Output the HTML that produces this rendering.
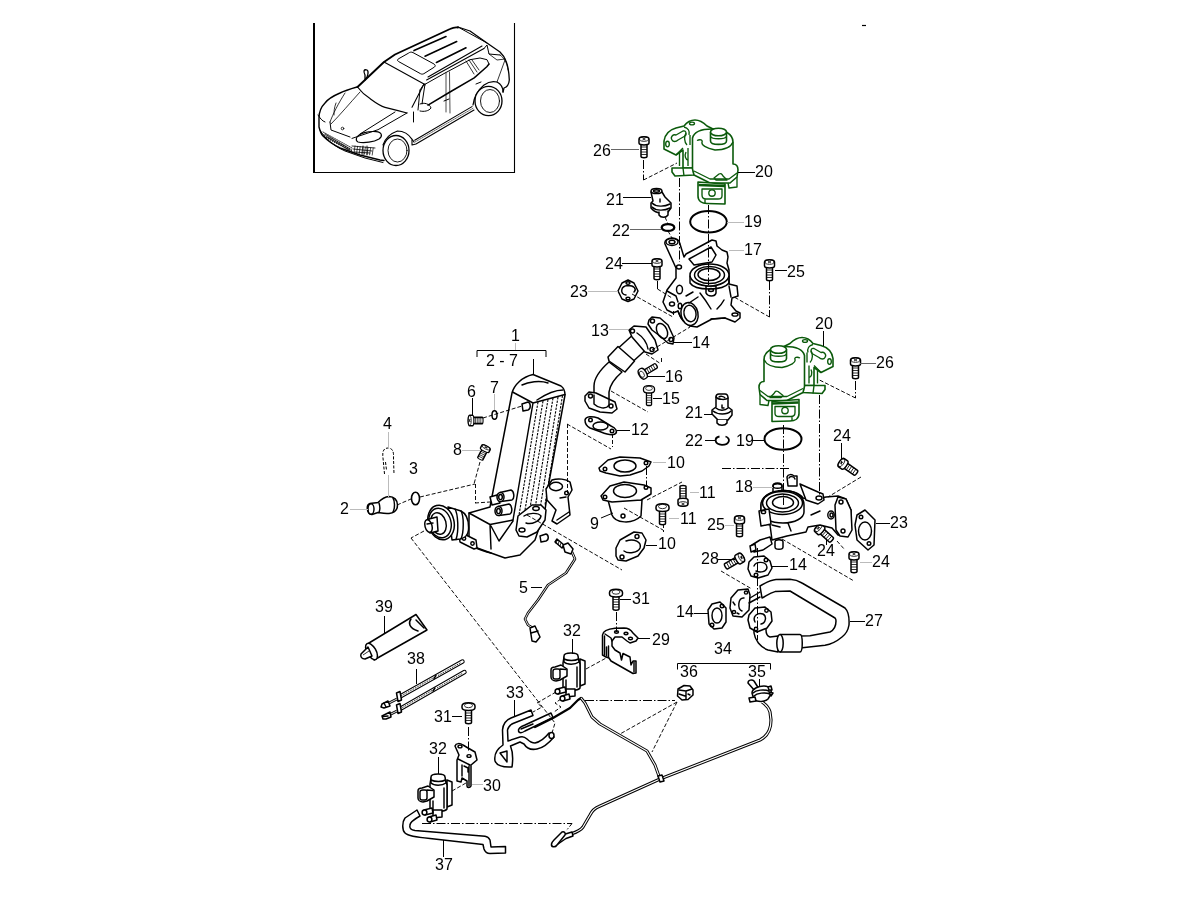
<!DOCTYPE html>
<html><head><meta charset="utf-8">
<style>
html,body{margin:0;padding:0;background:#fff;width:1200px;height:900px;overflow:hidden}
svg{display:block;will-change:transform}
text{font-family:"Liberation Sans",sans-serif;font-size:16px;fill:#000}
.k{fill:none;stroke:#000;stroke-width:1.45;stroke-linejoin:round;stroke-linecap:round}
.kw{fill:#fff;stroke:#000;stroke-width:1.5;stroke-linejoin:round;stroke-linecap:round}
.t{fill:none;stroke:#000;stroke-width:0.8}
.ld{fill:none;stroke:#000;stroke-width:1}
.lg{fill:none;stroke:#bbb;stroke-width:1}
.lm{fill:none;stroke:#666;stroke-width:1}
.dd{fill:none;stroke:#000;stroke-width:0.95;stroke-dasharray:4 2}
.dc{fill:none;stroke:#000;stroke-width:1;stroke-dasharray:9 2 1.5 2}
.g{fill:#fff;stroke:#0b5a0b;stroke-width:1.6;stroke-linejoin:round}
.gn{fill:none;stroke:#0b5a0b;stroke-width:1.35;stroke-linejoin:round}
</style></head><body>
<svg width="1200" height="900" viewBox="0 0 1200 900">
<!-- car box -->
<path d="M314,23V173" fill="none" stroke="#000" stroke-width="2"/><path d="M313,172.5H515M514.5,23V173" fill="none" stroke="#000" stroke-width="1.1"/>
<path d="M862 25.5h4" stroke="#000" stroke-width="1.2"/>
<g id="car" fill="none" stroke="#000" stroke-linejoin="round" stroke-linecap="round">
<!-- silhouette -->
<path stroke-width="1.4" d="M357,87 C350,89 344,91 340,93 C333,96 328,99 325,103 C321,107 319,112 319,118 L319,127 C320,131 321,134 323,136 C328,141 334,145 340,148 L360,155 L380,160 L384,160.5"/>
<path stroke-width="1.9" d="M357.5,87 L366,79 L384,62 L395,54.5 L450,29 C452,28 455,27 458,27.5"/>
<path stroke-width="1.3" d="M458,27 L470,31 L487,43 L500,52 C503,55 505,58 506,61 C508,66 509,72 509.3,80 C509,84 507,87 504,88 L503,92"/>
<path stroke-width="1.2" d="M357.5,87 C362,93 366,96 370,98.6 C376,103 380,106 385,107.3 C392,109 398,110.5 407,113"/>
<path stroke-width="1.1" d="M384,62 L424,84 M424,84 L412,107.3 M424,84 L425,85 M426.6,80 L484,48.5 M428,77 L482,46"/>
<!-- roof -->
<path stroke-width="1.6" d="M414,50.6 L446,36.6 M425,56.2 L456.7,41.5 M436.4,62.5 L466,47.8"/>
<path stroke-width="1" d="M409,52.8 C410,52 411.5,51.8 413,52.6 L434,64 C435.5,65 435.5,66 434.5,67 L424,73.6 C423,74.3 421.5,74.3 420.5,73.7 L398.5,61.5 C397,60.6 397.2,59.5 398.5,58.8 Z"/>
<path stroke-width="1" d="M458,27 L487,43 M484,48.5 L487,45 L489,54 L500,55"/>
<path stroke-width="0.8" d="M489,54 L497,60 L505,59 M505,60 L497,82 M500,55 C504,58 507,62 508,70"/>
<!-- side windows -->
<path stroke-width="1" d="M425.2,84.2 L445,73 L470,59.7 L480,58 L487,59.7 L489,64"/>
<path stroke-width="1.5" d="M428,105.2 L450,92 L474.2,77.9 L486.8,66.7 L489,64"/>
<path stroke-width="0.7" d="M446,73 L446,112 M449.5,72 L450,113"/>
<path stroke-width="0.8" d="M466,61 L474,74 M469,60 L477,72 M472,60 L479,70"/>
<path stroke-width="1" d="M420,90 L424,84 M418,110 L420,90 M425,84 L422,104"/>
<path stroke-width="1" d="M420,104 C424,102 430,104 431,108 C429,111 424,112 420,111"/>
<path stroke-width="1" d="M444,101 L449,99 M476,84 L481,82"/>
<!-- sill -->
<path stroke-width="1.1" d="M414.7,140.2 L472,106.6 M416,144 L474,110 M412,140 L412,145 L416,144"/>
<path stroke-width="0.6" stroke-dasharray="1 1" d="M415,142 L473,108.3"/>
<!-- front body -->
<path stroke-width="1.3" d="M365,75 C363,71 364,69 367,70 C369,71 368,77 365,80 Z"/>
<path stroke-width="0.8" d="M345,93 C338,104 333,114 330,122 M360,92 C350,103 340,115 331,124 M336,103 C334,108 334,112 334,115"/>
<path stroke-width="1" d="M407,113 L378,129.7 L352,138.4 M395,112 L360,134 M330,122 L331,130 L350,137 M318,115 C320,118 322,121 325,122"/>
<path stroke-width="1.2" d="M357,137 C360,133 368,131 376,131.6 C382,132 383,136 379,139 C374,142 364,143.5 358,142 C356,141 356,139 357,137 Z"/>
<path stroke-width="0.8" d="M325,134 L350,149 M327,137 L349,150 M352,146 L375,148 M353,149 L372,151 M354,152 L370,153 M363,146 L363,155 M367,146 L367,155"/>
<path stroke-width="0.8" stroke-dasharray="1 1" d="M323,132 L352,148"/>
<circle cx="342.5" cy="128.5" r="1.3" stroke-width="0.8"/>
<path stroke-width="0.8" d="M324.0,134.5 l1,3 M325.9,135.5 l1,3 M327.9,136.6 l1,3 M329.8,137.6 l1,3 M331.7,138.6 l1,3 M333.6,139.7 l1,3 M335.6,140.7 l1,3 M337.5,141.8 l1,3 M339.4,142.8 l1,3 M341.4,143.8 l1,3 M343.3,144.9 l1,3 M345.2,145.9 l1,3 M347.1,146.9 l1,3 M349.1,148.0 l1,3 M351.0,149.0 l1,3"/>
<path stroke-width="0.7" d="M355.0,146.0 l-1,7 M357.6,146.3 l-1,7 M360.2,146.6 l-1,7 M362.8,146.9 l-1,7 M365.4,147.2 l-1,7 M368.0,147.5 l-1,7 M370.6,147.8 l-1,7 M373.2,148.1 l-1,7"/>
<path stroke-width="1" d="M320,130 C325,139 334,146 345,151 L365,158 L383,162.5"/>

<!-- wheels -->
<path stroke-width="1.2" d="M383,145 C385,139 389,134 397.4,131 C403,131 408,133 412.3,139.6 L414,142"/>
<ellipse cx="396" cy="150.5" rx="13" ry="15" stroke-width="1.3" fill="#fff"/>
<ellipse cx="397.5" cy="150.5" rx="9.5" ry="11.5" stroke-width="0.9"/>
<path stroke-width="1.2" d="M473,105 C474,97 478,90 484,85 C488,82 493,81 497,82 C501,84 503,87 503,92"/>
<ellipse cx="488.5" cy="101" rx="13.5" ry="14.7" stroke-width="1.3" fill="#fff"/>
<ellipse cx="490" cy="101" rx="9.5" ry="11.5" stroke-width="0.9"/>
<path stroke-width="1" d="M413.5,112 L413.5,122"/>
</g>

<g id="valve">
<path class="g" d="M664,149 L664,141 C665,134 669,130 676,128 L684,126 C687,122 691,120 695,120 C700,120 704,123 707,126 L713,129 L693,138 L693,168 L683,168 L683,150 L676,155 Z"/>
<path class="gn" d="M672,140 C670,137 673,134 676,135 L683,131 C686,130 687,134 685,136 L678,140 C676,142 673,142 672,140 Z"/>
<ellipse class="gn" cx="667.5" cy="144" rx="1.8" ry="2.8"/>
<ellipse class="gn" cx="692" cy="123.5" rx="2.5" ry="1.4"/>
<path class="gn" d="M684,127 C688,128 690,131 689,135 M686,133 C684,136 684,142 687,145 M690,135 L690,145 M688,148 L688,166 M686,152 C684,156 686,160 688,160"/>
<path class="gn" d="M676,155 L683,148 M679.5,153 L679.5,166"/>
<path class="g" d="M672,168 L693,168 L694,175 L675,176 L672,172 Z"/>
<path class="gn" d="M683,168 L684,176"/>
<path class="g" d="M692.5,138 L692.5,169 L694,175 L710,183 L730,183 L737,177 L738,170 C738,166 736,164 733,164 L733,142 C733,134 724,129 712,129 C702,129 694,132 692.5,138 Z"/>
<path class="gn" d="M697,140.5 C700,139 703,140 702,142 C701,145 706,148 715,150 C724,150 731,147 733,142"/>
<path class="g" d="M710.5,132 L710.5,141 C710.5,145.5 726.5,145.5 726.5,141 L726.5,132"/>
<ellipse class="g" cx="718.5" cy="132" rx="8" ry="3.8"/>
<path class="gn" d="M710.5,136.5 C712,139.5 725,139.5 726.5,136.5"/>
<path class="gn" d="M714,178 L719,174 C721,173 722,174 723,176 L727,180 L716,180 Z"/>
<path class="gn" d="M694,171 L710,179 L729,179 L737,173"/>
<path class="g" d="M698,182 L698,196 C698,201 702,203.5 707,203.5 L725,204 L725,184 Z"/>
<path class="gn" d="M702,189 L722,189 L722,196 C722,198 720,199 718,199 L706,199 C703,199 702,197 702,195 Z M705,203.5 L705,199"/>
<path fill="none" stroke="#0b5a0b" stroke-width="2.4" d="M698.5,185 L725,186"/>
<circle class="gn" cx="712" cy="193" r="3.2"/>
<path class="gn" d="M728,183 L729,188 L737,187 L737,177"/>
</g>
<use href="#valve" transform="translate(1497,217.5) scale(-1,1)"/>


<!-- bolt symbol: origin top center, pointing down -->
<defs>
<g id="bolt">
<path class="kw" d="M-3,8 L-3,20.5 C-3,22 3,22 3,20.5 L3,8 Z"/>
<path class="t" d="M-3,11 H3 M-3,13.5 H3 M-3,16 H3 M-3,18.5 H3"/>
<path class="kw" d="M-5,3 C-5,0 5,0 5,3 L5,7 C5,9.5 -5,9.5 -5,7 Z"/>
<ellipse class="t" cx="0" cy="3" rx="4.5" ry="2.3"/>
<path class="t" d="M-1.5,2 L1.5,4 M1.5,2 L-1.5,4"/>
</g>
<g id="boltf">
<path class="kw" d="M-3,8 L-3,20.5 C-3,22 3,22 3,20.5 L3,8 Z"/>
<path class="t" d="M-3,11 H3 M-3,13.5 H3 M-3,16 H3 M-3,18.5 H3"/>
<path class="kw" d="M-6.5,4 C-6.5,-0.5 6.5,-0.5 6.5,4 L6.5,5.5 C6.5,9.5 -6.5,9.5 -6.5,5.5 Z"/>
<ellipse class="t" cx="0" cy="3.5" rx="4" ry="2.2"/>
</g>
</defs>
<!-- housing 17 -->
<g id="h17">
<path class="kw" d="M672,238 C668,238 664,240 665,244 L676,268 L676,278 L667,290 L663,302 L667,310 L673,313 L678,311 L681,318 L690,326 L697,327 L712,319 L725,318 L735,322 L740,318 L740,313 L736,311 L731,305 L732,298 L738,296 L737,286 L729,284 L729,270 L727,263 L728,257 L727,252 L722,250 L717,246 L716,241 L712,240 L686,254 L684,257 L680,244 C680,240 676,238 672,238 Z"/>
<ellipse class="k" cx="672" cy="242" rx="6" ry="3.5"/>
<ellipse class="k" cx="672" cy="242" rx="3" ry="1.8"/>
<path class="k" d="M689,259 L711,247 L716,255 L712,262 L694,265 Z"/>
<path class="kw" d="M706,286 L706,293 C708,297 715,297 716,293 L716,286 Z"/>
<ellipse class="k" cx="711" cy="290" rx="2.5" ry="1.5"/>
<path class="k" d="M690,276 L690,283 C695,291 723,291 729,283 L729,276"/>
<ellipse class="kw" cx="709.5" cy="275" rx="19.5" ry="11"/>
<ellipse class="k" cx="709.5" cy="275" rx="15" ry="8.5"/>
<ellipse class="k" cx="709" cy="274.5" rx="11" ry="6"/>
<path class="k" d="M678,311 C680,318 684,323 690,326"/>
<ellipse class="kw" cx="689.5" cy="314" rx="8.5" ry="11.5" transform="rotate(-12 689.5 314)"/>
<ellipse class="k" cx="690" cy="313.5" rx="6" ry="8.3" transform="rotate(-12 690 313.5)"/>
<ellipse class="k" cx="735" cy="314.5" rx="3" ry="1.6"/>
<ellipse class="k" cx="672" cy="304" rx="2.5" ry="2"/>
<ellipse class="k" cx="679.5" cy="289.5" rx="3" ry="4.3"/>
<ellipse class="k" cx="680" cy="306" rx="1.8" ry="2.8"/>
<ellipse class="k" cx="679" cy="267" rx="2.5" ry="2"/>
<path class="k" d="M686,296 L693,292 M689,303 L698,297 M700,293 C704,298 708,304 711,309 M724,300 C722,304 719,307 717,309 M711,319 L725,318 M729,286 L731,297 M667,291 L676,296 L678,302"/>
</g>
<!-- bolts -->
<use href="#bolt" transform="translate(644,136)"/>
<use href="#bolt" transform="translate(657,258)"/>
<use href="#bolt" transform="translate(769.5,259)"/>
<use href="#bolt" transform="translate(855.5,357)"/>
<use href="#boltf" transform="translate(649,385) scale(0.85,0.95)"/>
<use href="#boltf" transform="translate(639,376) rotate(-121) scale(0.85,0.95)"/>
<use href="#bolt" transform="translate(683,507) rotate(180)"/>
<use href="#boltf" transform="translate(662.5,503)"/>
<use href="#bolt" transform="translate(839,461) rotate(-55)"/>
<use href="#bolt" transform="translate(816,526) rotate(-48)"/>
<use href="#bolt" transform="translate(854,551)"/>
<use href="#bolt" transform="translate(739.5,515)"/>
<use href="#bolt" transform="translate(744,556) rotate(60)"/>
<use href="#boltf" transform="translate(616,588.5)"/>
<use href="#boltf" transform="translate(468.5,702)"/>
<use href="#bolt" transform="translate(467.5,420.5) rotate(-90) scale(1.05,0.72)"/>
<use href="#bolt" transform="translate(487,445.5) rotate(27) scale(0.95,0.72)"/>
<!-- gaskets -->
<path class="kw" d="M618,291 L622,283 L628,280 L634,283 L638,291 L634,299 L628,301.5 L622,299 Z"/>
<path class="k" d="M626,295 C620,294 620,286 628,285.5 C634,285.5 637,289 634,292"/>
<ellipse class="k" cx="628" cy="283" rx="2" ry="1.3"/><ellipse class="k" cx="628" cy="298.5" rx="2" ry="1.3"/>
<path class="kw" d="M649,320 L652,317 L660,318 L668,325 L674,338 L673,344 L668,343 L660,336 L652,330 L648,324 Z"/>
<ellipse class="k" cx="662" cy="331" rx="5" ry="8" transform="rotate(-25 662 331)"/>
<circle class="k" cx="652.5" cy="321" r="2"/><circle class="k" cx="671" cy="339.5" r="2"/>
<path class="kw" d="M585,420 C586,416 592,416 598,418 L611,426 C616,428 618,432 615,434 C611,436 606,434 601,432 L590,428 C586,426 585,423 585,420 Z"/>
<ellipse class="k" cx="600.5" cy="426" rx="7.5" ry="4"/>
<circle class="k" cx="590.5" cy="420" r="1.8"/><circle class="k" cx="612" cy="431" r="1.8"/>
<path class="kw" d="M599,468 L608,460 L620,457 L640,458 L651,462 L649,466 L642,471 L630,475 L620,476 L606,473 L600,471 Z"/>
<ellipse class="k" cx="625" cy="466" rx="11" ry="6"/>
<circle class="k" cx="605" cy="469" r="1.8"/><circle class="k" cx="646" cy="463" r="1.8"/>
<path class="kw" d="M608,500 L612,515 C615,523 632,525 641,516 L642,500 Z"/>
<circle class="k" cx="623" cy="516" r="2"/>
<path class="kw" d="M601,496 L610,486 L624,482 L644,485 L651,488 L651,494 L641,500 L612,502 L603,500 Z"/>
<ellipse class="k" cx="625" cy="491" rx="11.5" ry="6.5"/>
<circle class="k" cx="646" cy="487.5" r="1.8"/><circle class="k" cx="605" cy="497" r="1.8"/>
<path class="kw" d="M616,548 L620,540 L634,532 L642,533 L646,540 L644,548 L638,556 L626,561 L618,560 L616,556 Z"/>
<path class="k" d="M626,541 C634,538 642,542 640,548 C638,553 628,554 624,551"/>
<circle class="k" cx="637" cy="536.5" r="2"/><circle class="k" cx="622" cy="557" r="2"/>
<path class="kw" d="M749,562 L754,557 L764,556 L770,561 L772,568 L768,575 L758,578 L751,576 L748,569 Z"/>
<path class="k" d="M754,566 C756,561 766,561 767,567 C767,572 760,573 756,571"/>
<circle class="k" cx="766" cy="560" r="1.8"/><circle class="k" cx="756" cy="575" r="1.8"/>
<path class="kw" d="M708,610 L712,604 L720,602 L726,608 L726,622 L722,628 L714,629 L709,624 Z"/>
<ellipse class="k" cx="717" cy="615.5" rx="5" ry="7.5"/>
<circle class="k" cx="722" cy="606" r="1.8"/><circle class="k" cx="712" cy="625" r="1.8"/>
<path class="kw" d="M857,515 L865,510 L875,520 L874,545 L868,550 L857,540 L855,525 Z"/>
<ellipse class="k" cx="865" cy="531" rx="6.5" ry="9"/>
<circle class="k" cx="861" cy="517" r="1.8"/><circle class="k" cx="869" cy="543.5" r="1.8"/>


<!-- sensor 21 upper -->
<g>
<path class="kw" d="M651,192 L653,201 L651,203 L651,208 C655,213 661,214 668,212 L671,208 L671,203 L665,197 L662,192 Z"/>
<ellipse class="kw" cx="656.5" cy="191" rx="5.5" ry="2.6"/>
<ellipse class="k" cx="656.5" cy="191" rx="3" ry="1.2"/>
<path class="k" d="M652,203 C656,207 664,207 670,204 M652,207 C656,211 664,211 670,208 M660,199 L660,202"/>
<path class="kw" d="M659,212 L659,215 C661,218 666,218 668,215 L668,211"/>
<ellipse fill="none" stroke="#000" stroke-width="2.3" cx="668" cy="227.5" rx="6.3" ry="3.4"/>
</g>
<!-- sensor 21 lower -->
<g>
<path class="kw" d="M716,397 L716,407 L712,410 L712,414 L718,420 L728,420 L732,415 L732,410 L728,407 L728,398 Z"/>
<path class="kw" d="M716,397 C716,395 717,394 719,394 L725,394 C727,394 728,396 728,398 C726,400 718,400 716,397 Z"/>
<path class="k" d="M719,397 C720,396 724,396 725,398 M713,411 C718,415 727,415 731,411 M716,408 C719,411 725,411 728,408 M722,405 L722,408 L724,408"/>
<path class="kw" d="M717,420 L717,423 C719,426 725,426 727,423 L727,420"/>
<path fill="none" stroke="#000" stroke-width="1.8" d="M719.5,436.5 C714,437.5 714,444.5 722,444.8 C730,444.8 731,438 725.5,436.5"/>
</g>
<ellipse fill="none" stroke="#000" stroke-width="2" cx="708.5" cy="221.8" rx="18.3" ry="10.8"/>
<ellipse fill="none" stroke="#000" stroke-width="2" cx="783" cy="439" rx="18.5" ry="10.8"/>
<!-- pipe 13 -->
<g>
<path class="kw" d="M614,352 L636,332 L650,346 L628,366 Z"/>
<path class="kw" d="M609,362 C600,370 594,378 594,386 L594,401 L609,401 L609,392 C610,385 615,378 622,372 Z"/>
<path class="kw" d="M608,357 L618,346.5 L634.5,361 L625,372 L609,361 Z"/>
<path class="kw" d="M629,330 L634,326 L646,327 L655,340 L658,350 L652,354 L645,352 L632,337 Z"/>
<circle class="k" cx="632.5" cy="331" r="2"/><circle class="k" cx="652" cy="349.5" r="2"/>
<path class="k" d="M637,333 C643,337 647,343 648,349"/>
<path class="kw" d="M585,396 L589,392 L596,393 L615,402 L617,409 L612,413 L600,412 L589,408 L585,401 Z"/>
<path class="k" d="M594,395 L594,404 C598,408 606,410 609,405 L609,400"/>
<circle class="k" cx="590.5" cy="396" r="2"/><circle class="k" cx="611" cy="406" r="2"/>
</g>


<!-- cooler 1 -->
<g id="cooler">
<path class="kw" d="M469,513 L490,507 L512,393 C514,385 522,377 533,374.5 L561,386 C564,388 565,391 565,395 L549,482 L545,510 L535,540 L520,555 L505,558 L491,553 L469,545 Z"/>
<path class="k" d="M512.5,392 L533,403 L565,394.5 M533,403 L513,520 M522,385 C528,382 540,380 548,383 M537,400 C546,394 556,390 563,390"/>
<path fill="none" stroke="#000" stroke-width="1.1" stroke-dasharray="2.4 1.2" d="M538,402 L518.5,518 M543,401 L524,516 M548,399.5 L529,514 M553,398 L534.5,512 M558,397 L540,509 M562.5,395.5 L545,505"/>
<path class="k" d="M469,513 L490,524.5 L513,520 M490,524.5 L491,549 M491,526 L499,541 L513,521 M469,545 C478,549 486,552 491,553"/>
<!-- right bracket -->
<path class="kw" d="M546,489 L552,480 C558,478 566,479 570,482 L572,490 L568,497 L570,515 L557,524 L552,521 L556,510 L547,500 Z"/>
<ellipse class="k" cx="556" cy="486.5" rx="6.5" ry="4.2"/>
<circle class="k" cx="566.5" cy="493" r="1.8"/>
<path class="k" d="M557,520 L569,512 M560,498 L566,497"/>
<!-- flange with hole -->
<path class="kw" d="M516,530 L518,516 L532,505 L541,505 L546,510 L545,520 L537,532 L527,537 L519,536 Z"/>
<ellipse class="k" cx="536" cy="508.5" rx="3.2" ry="2"/>
<ellipse class="k" cx="522" cy="530" rx="3" ry="2"/>
<path class="k" d="M524,516 C528,513 538,512 541,516 C540,521 532,525 526,523"/>
<path class="kw" d="M540,536 L546,534 C549,535 549,540 546,541 L541,542 Z"/>
<!-- pipes -->
<path class="kw" d="M490,497 L497,495 L500,503 L492,505 Z"/>
<path class="kw" d="M500,492.5 L511,490 C514,491 515,498 512,500 L501,501.5 Z"/>
<ellipse class="kw" cx="500.5" cy="497" rx="3.5" ry="4.6"/>
<ellipse class="k" cx="500.5" cy="497" rx="1.8" ry="2.6"/>
<path class="kw" d="M498,506.5 L509,504 C512,505 513,512 510,514 L499,515.5 Z"/>
<ellipse class="kw" cx="498.5" cy="511" rx="3.5" ry="4.6"/>
<ellipse class="k" cx="498.5" cy="511" rx="1.8" ry="2.6"/>
<!-- bracket tab -->
<path class="kw" d="M459,535 L462,533 L476,540 L477,548 L474,549 L460,542 Z"/>
<circle class="k" cx="464" cy="538.5" r="1.7"/><circle class="k" cx="472.5" cy="543.5" r="1.7"/>
<!-- actuator -->
<path class="kw" d="M448,507 L461,511 C467,514 469,522 468.5,530 C468,535 465,538 460,539 L452,540 Z"/>
<path class="k" d="M455,509 C458,514 459,531 456,539.5 M461,511 C464,516 464,532 461,539"/>
<ellipse class="kw" cx="441" cy="522.5" rx="13" ry="17.5" transform="rotate(-15 441 522.5)"/>
<ellipse class="k" cx="440" cy="523" rx="11" ry="15" transform="rotate(-15 440 523)"/>
<ellipse class="k" cx="438.5" cy="523.5" rx="7.5" ry="11" transform="rotate(-15 438.5 523.5)"/>
<path class="kw" d="M429,519 L437,517 L438,531 L430,533 Z"/>
<ellipse class="kw" cx="428.5" cy="526" rx="3.5" ry="6.5" transform="rotate(-15 428.5 526)"/>
<path class="k" d="M427,524 L433,523"/>
</g>
<!-- part 2 cap -->
<path class="kw" d="M370,503.5 C373,503 376,503 378,502.5 C381,499.5 384,497 389,496.5 C394,496.5 397.5,500 397.5,505 C397.5,510 394,513 389,513.5 C385,514 381,513 378,512.5 L372,514.5 C367,515 365.5,505 370,503.5 Z"/>
<ellipse class="k" cx="371" cy="509" rx="3" ry="5.3"/>
<path class="k" d="M379,503 C380,506 380,510 379,512.5 M393,498 C395,501 395,508 393,512"/>
<ellipse fill="none" stroke="#000" stroke-width="1.6" cx="415.5" cy="498.5" rx="4" ry="6.3"/>
<!-- clip 4 -->
<path fill="none" stroke="#000" stroke-width="1" stroke-dasharray="3 1.5" d="M384.5,474 L383,458 C382,451 384,448 388,448 C392,448 394,451 393.5,458 L394,474 M385.5,462 L386.5,470"/>
<!-- ring 7 -->
<ellipse fill="none" stroke="#000" stroke-width="1.5" cx="494.5" cy="415" rx="2.5" ry="4.3"/>
<path class="kw" d="M522,404 L528,402 C531,403 531,409 528,410 L523,411 Z"/>


<!-- housing 18 -->
<g id="h18">
<path class="kw" d="M761,505 L761,522 L770,525 L772,540 L787,536 L806,532 L808,527 L820,525 L832,528 L838,535 L848,536 L851,530 L851,510 L846,499 L838,496 L826,497 L812,500 L803,498 C800,493 790,490 783,490.5 C770,491 762,497 761,505 Z"/>
<path class="kw" d="M800,484 L818,492 L823,494 L824,500 L818,504 L806,500 Z"/>
<ellipse class="k" cx="819" cy="498" rx="3" ry="2"/>
<path class="kw" d="M788,486 L787,477 C788,474 792,474 794,476 L797,476 L797,486 Z"/>
<path class="k" d="M789,478 C790,476 794,476 795,479"/>
<path class="kw" d="M773,496 L773,486 C773,482 782,482 782,486 L782,496 Z"/>
<ellipse class="k" cx="777.5" cy="486" rx="4.5" ry="2.3"/>
<path class="kw" d="M761,512 L761,505 C761,496 772,490.5 783,490.5 C795,490.5 804,496 804,505 L804,512 C804,518 795,523 783,523 C771,523 761,518 761,512 Z"/>
<ellipse class="k" cx="782.5" cy="503" rx="20" ry="11.5"/>
<ellipse class="k" cx="782.5" cy="503" rx="16" ry="9"/>
<ellipse class="k" cx="783" cy="502.5" rx="10.5" ry="6"/>
<path class="kw" d="M759,511 L769,509 L771,524 L761,526 Z"/>
<ellipse class="k" cx="763.5" cy="512" rx="2.2" ry="1.6"/>
<path class="kw" d="M838,497 L846,499 L851,510 L852,530 L848,537 L840,536 L836,530 L835,505 Z"/>
<circle class="k" cx="841" cy="502" r="2"/><circle class="k" cx="843" cy="531" r="2"/>
<path class="k" d="M811,515 L820,511 M788,523 L791,531 M772,525 L780,527"/>
<ellipse class="k" cx="831" cy="515" rx="3.2" ry="4"/><ellipse class="k" cx="831.5" cy="515" rx="1.5" ry="2"/>
<path class="kw" d="M752,545 L760,540 L770,537 L772,544 L763,550 L754,552 Z"/>
<path class="kw" d="M750,546 L755,544 L756,550 L751,552 Z"/>
<path class="kw" d="M775,542 C775,539 783,539 783,542 L783,547 C783,550 775,550 775,547 Z"/>
</g>
<!-- pipe 27 -->
<g id="p27">
<path class="kw" d="M731,598 L738,590 L748,589 L750,595 L749,610 L742,617 L733,616 L730,608 Z"/>
<path class="k" d="M744,598 C738,597 737,609 742,611 M733,602 L735,605 M737,613 L739,614"/>
<circle class="k" cx="746" cy="592.5" r="1.6"/><circle class="k" cx="734" cy="612" r="1.6"/>
<path class="k" d="M750,598 L760,592 M749,603 L760,597"/>
<path class="kw" d="M760,586 C765,583 770,580 776,579.5 L790,579.2 C795,579.5 798,580.5 802,583 L845,608 C848,611 849.5,616 849,625 C848,631 846,634 842,637 C836,642 830,644.5 825,645.3 L800,648 L800,636 L810,635.7 L830,632 C834,630 836,627 836,621 C836,619 835.5,618.5 835,618 L790,591 L775,591.6 C770,593 766,596 762,598 Z"/>
<path class="kw" d="M754,628 L754,633 C755,640 760,647 768,650 L778,652 L778,636 L770,637 C767,636 766,634 766,630 L766,627 Z"/>
<path class="kw" d="M780,634.5 L800,634.5 C803,634.5 803,652 800,652 L780,652 Z"/>
<ellipse class="kw" cx="780" cy="643.3" rx="3.2" ry="8.8"/>
<path class="kw" d="M749,615 L755,608 L765,607 L771,612 L772,621 L767,628 L757,632 L750,628 L748,620 Z"/>
<path class="k" d="M755,622 C752,616 758,612 763,614 C767,616 766,623 761,624"/>
<circle class="k" cx="766.5" cy="610.5" r="1.7"/><circle class="k" cx="756" cy="629" r="1.7"/>
</g>
<!-- sensor 5 -->
<g>
<path fill="none" stroke="#000" stroke-width="2.6" stroke-linejoin="round" d="M572,552 L575,559 L566,573 L548,585 L538,600 L528,613 L525,619 L528,625 L533,628"/>
<path fill="none" stroke="#fff" stroke-width="0.9" stroke-linejoin="round" d="M572,552 L575,559 L566,573 L548,585 L538,600 L528,613 L525,619 L528,625 L533,628"/>
<path class="kw" d="M555,542 L557,539 L564,545 L562,548 Z"/>
<path class="t" d="M557,540 L556,544 M559,541 L558,545 M561,543 L560,546"/>
<path class="kw" d="M563,545 L568,543 L573,549 L571,554 L565,552 Z"/>
<path class="kw" d="M530,628 L535,626 L540,637 L536,642 L532,641 Z"/>
<path class="k" d="M531,633 L538,631"/>
</g>
<!-- tube 39 -->
<g>
<path class="kw" d="M369,643 L416,614.5 L427,630 L374,660 Z"/>
<path class="k" d="M411,619 C408,623 409,628 418,631 M416,620 L424,628"/>
<ellipse class="kw" cx="371.5" cy="651.5" rx="4.5" ry="9" transform="rotate(-30 371.5 651.5)"/>
<path class="kw" d="M368,647 L361,654 C360,657 362,659 365,659 L372,656 Z"/>
<path class="t" d="M363,655 L369,651"/>
</g>
<!-- ties 38 -->
<g>
<path fill="none" stroke="#000" stroke-width="4.4" stroke-linecap="round" d="M401,696 L462.5,661.5 M400,709 L464.5,672"/>
<path fill="none" stroke="#fff" stroke-width="2.4" stroke-linecap="round" d="M401,696 L462.5,661.5 M400,709 L464.5,672"/>
<path fill="none" stroke="#000" stroke-width="1" stroke-dasharray="1 1" d="M401,696 L434,677.5 M438,675.5 L461,662.5 M400,709 L433,690 M437,688 L463,673"/>
<path class="kw" d="M396.5,693 L400,691.5 L401.5,700 L398,701.5 Z"/>
<path class="kw" d="M396.5,705 L400,703.5 L401.5,712 L398,713.5 Z"/>
<path class="k" d="M434,678.5 L436,675.5 M433,691 L435,688"/>
<path fill="none" stroke="#000" stroke-width="2.6" d="M397,699 L387,704"/>
<path fill="none" stroke="#fff" stroke-width="0.9" d="M397,699 L387,704"/>
<path class="kw" d="M388,701 L382,704 L381,707 L384,708 L390,706 Z"/>
<path class="k" d="M384,703 L386,707"/>
<path fill="none" stroke="#000" stroke-width="2.6" d="M397,711 L389,715"/>
<path fill="none" stroke="#fff" stroke-width="0.9" d="M397,711 L389,715"/>
<path class="kw" d="M390,712 L382,716 L383,719 L386,719 L391,717 Z"/>
<path class="k" d="M383,716.5 L388,716"/>
</g>


<!-- valve 32 -->
<g id="v32">
<path class="kw" d="M580,659 L585,661 L585,684 L580,686 Z"/>
<path class="kw" d="M563,663 L564,657 L578,657 L580,664 L580,688 C578,691 566,691 563,688 Z"/>
<path class="k" d="M566,680 L566,689 M577,667 L577,687"/>
<path class="kw" d="M564,656 C564,652 578,652 578,656 L579,662 C575,665 567,665 564,662 Z"/>
<path class="k" d="M564,659 C568,661 575,661 578.5,659"/>
<path class="kw" d="M551,670 C551,668 553,667 555,667 L561,665 L567,669 L567,676 L560,680 L556,681 C553,681 551,679 551,677 Z"/>
<path class="k" d="M553,671 C553,669.5 554,669 556,669 L558,669 C559,669 560,670 560,671 L560,677 C560,678.5 559,679 557.5,679 L555,679 C554,679 553,678 553,677 Z M560,669 L566,669.5"/>
<path class="kw" d="M566,689 L575,689 L575,696 L566,697 Z"/>
<path class="kw" d="M557,689 L565,687 L566,692 L558,694 Z"/>
<circle class="kw" cx="557.5" cy="691.5" r="2.4"/>
<path class="kw" d="M562,696 L569,694 L570,699 L563,701 Z"/>
<circle class="kw" cx="562.5" cy="698.5" r="2.4"/>
</g>
<use href="#v32" transform="translate(-133,121)"/>
<!-- bracket 29 -->
<g>
<path class="kw" d="M602.5,635 C603,631 608,629 615,628.3 L624,628 C628,628 631,630 633,633 L638,638 L636,641 L630,643 L627,641 L622,637 L615,637 L612,641 L612,646 L615,650 L620,653 L621.5,660 L623,653.5 L630,657 L631,665 L633,661 L636,661 L636,673 L633,673.5 L611,661 L609,658 L606,657 L602.5,655 Z"/>
<path class="k" d="M604.5,636 L604.5,655 M605,634 L611,638 L612,641 M606.5,647 L606.5,656 M608.5,646 L608.5,657.5 M634,662 L634,672"/>
<ellipse class="k" cx="616.5" cy="632" rx="2" ry="1.2"/><ellipse class="k" cx="626" cy="633.5" rx="2" ry="1.2"/><ellipse class="k" cx="630.5" cy="638.5" rx="2" ry="1.3"/>
</g>
<!-- bracket 30 -->
<g>
<path class="kw" d="M455,746 C456,743 460,743 463,745 L468,748 L475,752 L477,760 L471,765 L471,786 C470,788 467,788 467,786 L467,781 L462,778 L461,782 L457,781 L457,760 L459,755 Z"/>
<ellipse class="k" cx="469" cy="756" rx="2" ry="1.4"/>
<ellipse class="k" cx="460" cy="746.5" rx="2" ry="1.4"/>
<path class="k" d="M458,759 L470,765 M462,765 L462,776 M464,766 L468,768 L468,772 M469,766 L469,786"/>
</g>
<!-- hose 37 -->
<path class="kw" d="M417,810 L405,818 C402,822 402,830 405,833 C408,836 415,837 430,838.5 L483,844.5 L484,849 C485,852 487,853.5 490,853.5 L505.5,853 L505.5,846.5 L491,847 L490,840 C489,838 487,836.5 485,836.3 L415,830.5 C411,830 409,828 410,825 C410,823 413,820 420,816 Z"/>
<!-- hose 33 -->
<g>
<path class="kw" d="M531,710 L511,718 C506,720 503,724 502.5,730 L503,745 C497,749 494,755 495,761 C497,766 503,767.5 512,767 C513,760 513,752 510.5,746 L520,742 L524,744 C527,749 532,750 537,749 C543,748 549,743 554,737 L549,733 C545,738 540,742 535,743 C531,743 529,741 527,739 C525,737 523,736 520,737 L508,741 L507.5,730 C508,727 510,725 513,723.5 L533,715.5 Z"/>
<path class="k" d="M500,753 L507,751 L507,762 Z"/>
<path class="kw" d="M551,713 L525,725 C520,727 518,729 518.5,731 C519,733.5 522,733 525,731 L553,717.5 Z"/>
<path class="k" d="M521,729 L533,724"/>
<ellipse class="kw" cx="551.5" cy="735.5" rx="2.5" ry="3"/>
</g>
<!-- wire harness -->
<g>
<path fill="none" stroke="#000" stroke-width="2.2" stroke-linejoin="round" stroke-linecap="round" d="M535,727 L553,718 L570,708 L578,700 L581,698"/>
<path fill="none" stroke="#000" stroke-width="3" stroke-linejoin="round" d="M581,698 L585,703 L592,717 L600,724 L647,751 L655,765 L660,779"/>
<path fill="none" stroke="#fff" stroke-width="1.1" stroke-linejoin="round" d="M581,698 L585,703 L592,717 L600,724 L647,751 L655,765 L660,779"/>
<path fill="none" stroke="#000" stroke-width="3.2" stroke-linejoin="round" d="M571,834 C577,832 581,830 583,827 L590,815 C592,811 595,808 599,806.5 L660,779 L760,740 C768,736 771,728 771,720 L770,712 C769,708 765,704 762,702"/>
<path fill="none" stroke="#fff" stroke-width="1.2" stroke-linejoin="round" d="M571,834 C577,832 581,830 583,827 L590,815 C592,811 595,808 599,806.5 L660,779 L760,740 C768,736 771,728 771,720 L770,712 C769,708 765,704 762,702"/>
<path class="kw" d="M658,776 L662,775 L664,781 L660,782 Z"/>
<path class="kw" d="M572,832 L573,836 L566,838.5 L558,844 L562,835 Z"/>
<path class="kw" d="M562,832 C564,831 566,833 565,835 L557,845 C555,848 551,847 551.5,844 C552,842 553,841 554,840 Z"/>
<!-- 35 -->
<path class="kw" d="M748,683 C748,680 752,679 754,681 L759,689 L755,691 Z"/>
<path class="kw" d="M752,693 C752,689 758,686 764,686 C770,686 772,690 771,694 L768,699 C765,702 758,702 754,700 Z"/>
<path class="k" d="M753,693 C756,690 764,689 769,691 M754,696 C757,693 765,692 770,694"/>
<path class="kw" d="M749,698 L755,697 L756,701 L750,702 Z"/>
<path class="kw" d="M768,687 L771,686 L772,690 L769,690 Z"/>
<path class="kw" d="M769,692 L773,693 L771,696 Z"/>
<!-- 36 -->
<path class="kw" d="M678,689 L684,685.5 L690,686 L693,690 L693,695 L688,699.5 L682,700 L677.5,696 Z"/>
<path class="k" d="M679,690 L686,691 L692,689 M686,691 L686,699 M679,694 L685,696 M688,694 L690,695"/>
</g>


<!-- leader lines -->
<g>
<path class="lm" d="M611,149.5H639 M630,229.5H661 M860,363.5H876"/>
<path class="ld" d="M738,172.5H755 M623,197.5H651 M622,263.5H652 M775,270.5H787 M674,342.5H692 M823.5,331V346 M647,376.5H665 M653,398.5H662 M704,414.5H712 M617,430.5H630 M705,440.5H715 M752,440.5H764 M841.5,443V459 M601,518 L613,513 M876,523.5H890 M826.5,540V545 M646,545.5H657 M718,559.5H735 M772,566.5H788 M694,613.5H708 M850,621.5H865"/>
<path class="lg" d="M727,222.5H744 M729,250.5H744 M588,291.5H618 M609,329.5H628 M653,462.5H666 M753,487.5H773 M690,492.5H699 M669,518.5H679 M725,525.5H734 M860,562.5H872"/>
<path class="lg" d="M515.5,343V350 M494.5,394V410 M388.5,432V449 M388.5,475V497 M462,450.5H481 M350,509.5H368 M472,784.5H483"/>
<path class="ld" d="M477,357V350.5H546V357 M533.5,359V374 M472.5,398V415 M531,587.5H542 M384.5,616V633 M416.5,669V684 M452,716.5H462 M514.5,700V717 M620,599.5H631 M638,638.5H650 M572.5,639V654 M438.5,757V774 M443.5,840V857 M677.5,669.5V663.5H770.5V669.5 M759.5,679V686"/>
</g>
<!-- dashed construction lines -->
<g>
<path class="dc" d="M643.5,160V180 M679.5,178V262 M708.5,205V285 M657.5,281V289 M769.5,281V317 M819.5,395V497 M783.5,425V505 M855.5,381V398 M757.5,548V640 M616.5,612V632 M468.5,727V752 M585,700.5H675 M422,823.5H572 L566,831 M722,468.5H790 M646.5,466V487"/>
<path class="dd" d="M643.5,180L677,163 M665,217L668,224 M668,231L672,238 M657.5,289L672,298 M769.5,317L735,297.5 M632,294L673,317 M673.5,311V317 M652,350L690,327 M646,354L661,364 M661.5,358V364 M611,391L648,412 M855.5,398L819.5,380 M861,477L828,497 M782,539L854,581 M721,571L751,588.5 M837,541L845,550 M483,418L522,406 M397,505L411,499 M420,497L475,484 M475.5,484V503 M475,503L490,502 M480,462L474,484 M424,531L411,538 M411,538L537,700 M537,700L555,723 L552,733 M527,515L622,570 M567.5,424V493 M567,424L611,449 M647,500L682,482 M624,508L663,530 M663.5,524V532 M586,669L608,657 M677,702L620,734 M677,702L652,752 M452,791L466,783 M556,692L537,703 L542,707 L533,712 M561,699L555,703 L561,707 L554,712 M612.5,434V447"/>
</g>

<g id="labels">
<text x="593" y="156">26</text>
<text x="755" y="177">20</text>
<text x="606" y="205">21</text>
<text x="744" y="227">19</text>
<text x="612" y="236">22</text>
<text x="744" y="255">17</text>
<text x="605" y="269">24</text>
<text x="787" y="277">25</text>
<text x="570" y="297">23</text>
<text x="591" y="336">13</text>
<text x="692" y="348">14</text>
<text x="815" y="329">20</text>
<text x="876" y="368">26</text>
<text x="665" y="382">16</text>
<text x="662" y="404">15</text>
<text x="685" y="418">21</text>
<text x="631" y="435">12</text>
<text x="685" y="446">22</text>
<text x="736" y="446">19</text>
<text x="833" y="441">24</text>
<text x="667" y="468">10</text>
<text x="735" y="492">18</text>
<text x="699" y="498">11</text>
<text x="680" y="524">11</text>
<text x="590" y="529">9</text>
<text x="707" y="530">25</text>
<text x="890" y="528">23</text>
<text x="817" y="556">24</text>
<text x="872" y="567">24</text>
<text x="658" y="549">10</text>
<text x="701" y="564">28</text>
<text x="789" y="570">14</text>
<text x="676" y="617">14</text>
<text x="865" y="626">27</text>
<text x="714" y="654">34</text>
<text x="680" y="677">36</text>
<text x="748" y="677">35</text>
<text x="511" y="341">1</text>
<text x="486" y="366">2 - 7</text>
<text x="467" y="397">6</text>
<text x="490" y="393">7</text>
<text x="383" y="429">4</text>
<text x="409" y="474">3</text>
<text x="453" y="455">8</text>
<text x="340" y="514">2</text>
<text x="519" y="593">5</text>
<text x="375" y="612">39</text>
<text x="407" y="664">38</text>
<text x="434" y="722">31</text>
<text x="506" y="698">33</text>
<text x="632" y="604">31</text>
<text x="652" y="645">29</text>
<text x="563" y="636">32</text>
<text x="429" y="754">32</text>
<text x="483" y="791">30</text>
<text x="435" y="870">37</text>
</g>
</svg>
</body></html>
